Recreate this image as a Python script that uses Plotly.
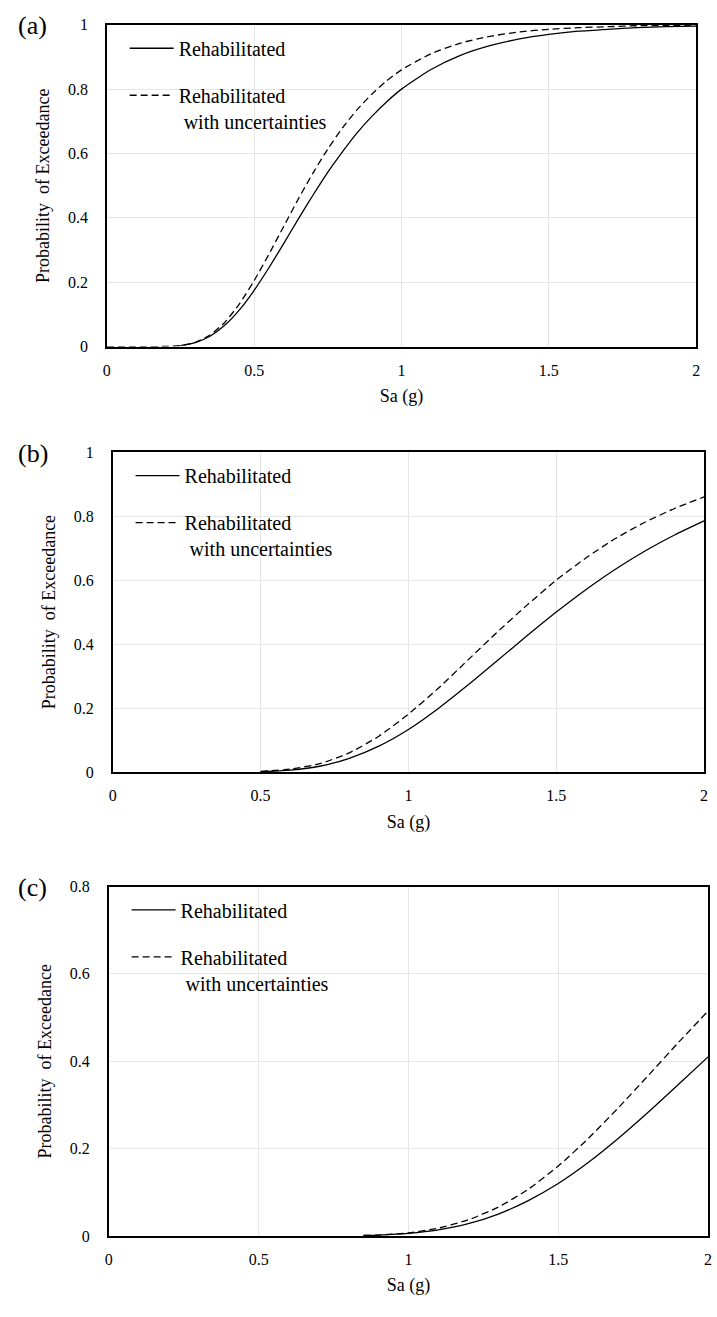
import plotly.graph_objects as go

# ---------------- data ----------------
xa_solid = [0.25, 0.3, 0.35, 0.4, 0.45, 0.5, 0.55, 0.6, 0.65, 0.7, 0.75, 0.8, 0.85, 0.9, 0.95,
            1.0, 1.1, 1.2, 1.3, 1.4, 1.5, 1.6, 1.7, 1.8, 1.9, 2.0]
ya_solid = [0.003, 0.012, 0.032, 0.066, 0.114, 0.175, 0.245, 0.320, 0.397, 0.471, 0.542, 0.606,
            0.665, 0.716, 0.761, 0.800, 0.861, 0.905, 0.935, 0.956, 0.970, 0.980, 0.986, 0.991,
            0.994, 0.996]
xa_dash = [0.0, 0.1, 0.2, 0.25, 0.3, 0.35, 0.4, 0.45, 0.5, 0.55, 0.6, 0.65, 0.7, 0.75, 0.8, 0.85,
           0.9, 0.95, 1.0, 1.1, 1.2, 1.3, 1.4, 1.5, 1.6, 1.7, 1.8, 1.9, 2.0]
ya_dash = [0.0, 0.0, 0.0004, 0.003, 0.013, 0.036, 0.075, 0.133, 0.205, 0.287, 0.373, 0.459, 0.540,
           0.614, 0.680, 0.737, 0.785, 0.826, 0.860, 0.910, 0.943, 0.964, 0.978, 0.986, 0.991,
           0.994, 0.997, 0.998, 0.999]

xb = [0.5, 0.6, 0.7, 0.8, 0.9, 1.0, 1.1, 1.2, 1.3, 1.4, 1.5, 1.6, 1.7, 1.8, 1.9, 2.0]
yb_solid = [0.001, 0.006, 0.018, 0.043, 0.081, 0.133, 0.198, 0.271, 0.348, 0.425, 0.500, 0.570,
            0.634, 0.691, 0.741, 0.785]
yb_dash = [0.002, 0.009, 0.026, 0.060, 0.112, 0.181, 0.261, 0.349, 0.437, 0.521, 0.600, 0.669,
           0.730, 0.781, 0.824, 0.860]

xc = [0.85, 0.9, 1.0, 1.1, 1.2, 1.3, 1.4, 1.5, 1.6, 1.7, 1.8, 1.9, 2.0]
yc_solid = [0.001, 0.002, 0.006, 0.014, 0.028, 0.050, 0.081, 0.120, 0.168, 0.223, 0.283, 0.346, 0.410]
yc_dash = [0.001, 0.002, 0.007, 0.018, 0.037, 0.066, 0.107, 0.160, 0.223, 0.293, 0.367, 0.442, 0.515]

x_ticks = [0, 0.5, 1, 1.5, 2]
x_ticktext = ["0", "0.5", "1", "1.5", "2"]
y_ticks_ab = [0, 0.2, 0.4, 0.6, 0.8, 1]
y_ticktext_ab = ["0", "0.2", "0.4", "0.6", "0.8", "1"]
y_ticks_c = [0, 0.2, 0.4, 0.6, 0.8]
y_ticktext_c = ["0", "0.2", "0.4", "0.6", "0.8"]

name_solid = "Rehabilitated"
name_dash = "Rehabilitated<br> with uncertainties"
panel_labels = ["(a)", "(b)", "(c)"]
x_title = "Sa (g)"
y_title = "Probability  of Exceedance"

# ---------------- layout geometry (pixels) ----------------
W, H = 717, 1317
FONT = "Liberation Serif, Times New Roman, serif"
panels = [
    # left, right, top, bottom
    dict(l=104, r=700, t=17, b=343),
    dict(l=110, r=708, t=450, b=774),
    dict(l=106, r=712, t=890, b=1244),
]

fig = go.Figure()

series = [
    (xa_solid, ya_solid, xa_dash, ya_dash),
    (xb, yb_solid, xb, yb_dash),
    (xc, yc_solid, xc, yc_dash),
]

for i, (xs, ys, xd, yd) in enumerate(series):
    suf = "" if i == 0 else str(i + 1)
    leg = "legend" + suf
    fig.add_trace(go.Scatter(x=xs, y=ys, mode="lines", name=name_solid,
                             line=dict(color="black", width=1.3, shape="spline", smoothing=0.6),
                             xaxis="x" + suf, yaxis="y" + suf, legend=leg,
                             legendgroup="s" + suf))
    fig.add_trace(go.Scatter(x=xd, y=yd, mode="lines", name=name_dash,
                             line=dict(color="black", width=1.3, dash="7px,4px",
                                       shape="spline", smoothing=0.6),
                             xaxis="x" + suf, yaxis="y" + suf, legend=leg,
                             legendgroup="d" + suf))

layout = dict(width=W, height=H, margin=dict(l=0, r=0, t=0, b=0),
              paper_bgcolor="white", plot_bgcolor="white",
              font=dict(family=FONT, color="black", size=16))

annotations = []
for i, p in enumerate(panels):
    suf = "" if i == 0 else str(i + 1)
    xd = [p["l"] / W, p["r"] / W]
    yd = [1 - p["b"] / H, 1 - p["t"] / H]
    ymax = 0.8 if i == 2 else 1
    yt = y_ticks_c if i == 2 else y_ticks_ab
    ytt = y_ticktext_c if i == 2 else y_ticktext_ab
    layout["xaxis" + suf] = dict(
        domain=xd, range=[0, 2], anchor="y" + suf,
        tickvals=x_ticks, ticktext=x_ticktext, ticks="", ticklabelstandoff=8,
        showgrid=True, gridcolor="#e6e6e6", gridwidth=1,
        showline=True, linecolor="black", linewidth=1.5, mirror=True,
        zeroline=False, tickfont=dict(size=16, family=FONT),
        title=dict(text=x_title, font=dict(size=18, family=FONT), standoff=12))
    layout["yaxis" + suf] = dict(
        domain=yd, range=[0, ymax], anchor="x" + suf,
        tickvals=yt, ticktext=ytt, ticks="", ticklabelstandoff=14,
        showgrid=True, gridcolor="#e6e6e6", gridwidth=1,
        showline=True, linecolor="black", linewidth=1.5, mirror=True,
        zeroline=False, tickfont=dict(size=16, family=FONT),
        title=dict(text=y_title, font=dict(size=18, family=FONT), standoff=14))
    layout["legend" + suf] = dict(
        x=(p["l"] + 18) / W, y=1 - (p["t"] + 4) / H, xanchor="left", yanchor="top",
        bgcolor="rgba(0,0,0,0)", font=dict(size=20, family=FONT),
        traceorder="grouped", tracegroupgap=18, valign="top", itemwidth=44)
    annotations.append(dict(text=panel_labels[i], x=12 / W, y=1 - (p["t"] + 1) / H,
                            xref="paper", yref="paper", xanchor="left", yanchor="middle",
                            showarrow=False, font=dict(size=26, family=FONT)))

layout["annotations"] = annotations
fig.update_layout(**layout)
fig.write_html("out.html")
